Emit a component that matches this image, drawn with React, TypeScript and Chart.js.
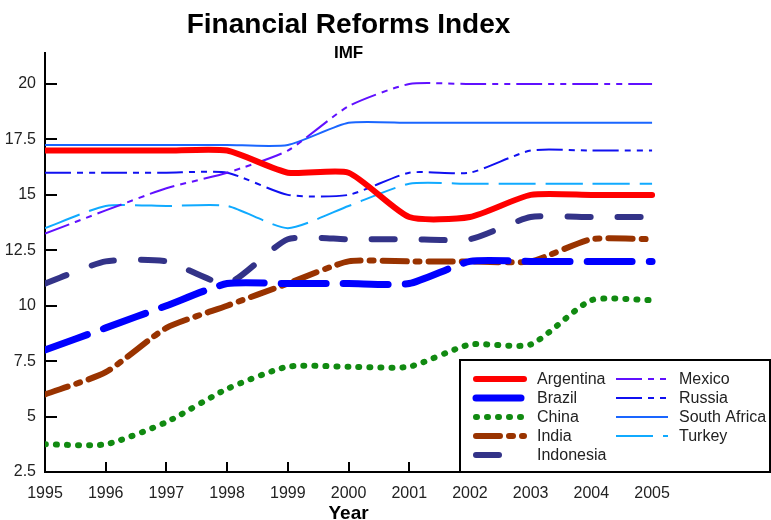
import React, { useEffect, useRef } from 'react';
import { Chart, registerables } from 'chart.js';

Chart.register(...registerables);

const FONT = '"Liberation Sans", Arial, Helvetica, sans-serif';

const years = [1995, 1996, 1997, 1998, 1999, 2000, 2001, 2002, 2003, 2004, 2005];
const yTickValues = [2.5, 5, 7.5, 10, 12.5, 15, 17.5, 20];

const argentina = [17, 17, 17, 17, 16, 16, 14, 14, 15, 15, 15];
const brazil = [8, 9, 10, 11, 11, 11, 11, 12, 12, 12, 12];
const china = [3.75, 3.75, 4.75, 6.25, 7.25, 7.25, 7.25, 8.25, 8.25, 10.25, 10.25];
const india = [6, 7, 9, 10, 11, 12, 12, 12, 12, 13, 13];
const indonesia = [11, 12, 12, 11, 13, 13, 13, 13, 14, 14, 14];
const mexico = [13.25, 14.3, 15.3, 16, 17, 19, 20, 20, 20, 20, 20];
const russia = [16, 16, 16, 16, 15, 15, 16, 16, 17, 17, 17];
const southAfrica = [17.25, 17.25, 17.25, 17.25, 17.25, 18.25, 18.25, 18.25, 18.25, 18.25, 18.25];
const turkey = [13.5, 14.5, 14.5, 14.5, 13.5, 14.5, 15.5, 15.5, 15.5, 15.5, 15.5];

const titleText = 'Financial Reforms Index';
const subtitleText = 'IMF';
const xAxisTitle = 'Year';

const toPoints = (arr: number[]) => years.map((x, i) => ({ x, y: arr[i] }));

const decorPlugin = {
  id: 'decor',
  afterDraw(chart: any) {
    const { ctx, chartArea, scales } = chart;
    const xs = scales.x;
    const ys = scales.y;
    ctx.save();
    // inward tick marks
    ctx.strokeStyle = '#000';
    ctx.lineWidth = 2;
    ctx.setLineDash([]);
    ctx.lineCap = 'butt';
    yTickValues.forEach((v) => {
      const py = Math.round(ys.getPixelForValue(v));
      ctx.beginPath();
      ctx.moveTo(chartArea.left, py);
      ctx.lineTo(chartArea.left + 12, py);
      ctx.stroke();
    });
    years.forEach((v) => {
      const px = Math.round(xs.getPixelForValue(v));
      ctx.beginPath();
      ctx.moveTo(px, chartArea.bottom);
      ctx.lineTo(px, chartArea.bottom - 10);
      ctx.stroke();
    });

    // titles
    const cx = (xs.getPixelForValue(years[0]) + xs.getPixelForValue(years[years.length - 1])) / 2;
    ctx.fillStyle = '#000';
    ctx.textAlign = 'center';
    ctx.textBaseline = 'alphabetic';
    ctx.font = `bold 28px ${FONT}`;
    ctx.fillText(titleText, cx, 33);
    ctx.font = `bold 17px ${FONT}`;
    ctx.fillText(subtitleText, cx, 58);
    ctx.font = `bold 19px ${FONT}`;
    ctx.fillText(xAxisTitle, cx, 519);

    // legend box
    const bx = 460, by = 360, bw = 310, bh = 112;
    ctx.fillStyle = '#fff';
    ctx.fillRect(bx, by, bw, bh);
    ctx.strokeStyle = '#000';
    ctx.lineWidth = 2;
    ctx.strokeRect(bx, by, bw, bh);

    const dsets = chart.data.datasets;
    dsets.forEach((ds: any, i: number) => {
      const col = i < 5 ? 0 : 1;
      const row = i < 5 ? i : i - 5;
      const y = 379 + row * 19;
      const x0 = col === 0 ? 476 : 616;
      const x1 = col === 0 ? 524 : 668;
      const tx = col === 0 ? 537 : 679;
      ctx.save();
      ctx.beginPath();
      ctx.rect(x0 - 6, y - 8, x1 - x0 + 12, 16);
      ctx.clip();
      ctx.strokeStyle = ds.borderColor;
      ctx.lineWidth = ds.borderWidth;
      ctx.lineCap = ds.borderCapStyle || 'butt';
      ctx.setLineDash(ds.borderDash || []);
      ctx.lineDashOffset = 0;
      ctx.beginPath();
      ctx.moveTo(x0, y);
      ctx.lineTo(x1, y);
      ctx.stroke();
      ctx.restore();
      ctx.fillStyle = '#222';
      ctx.font = `16px ${FONT}`;
      ctx.textAlign = 'left';
      ctx.textBaseline = 'middle';
      ctx.fillText(ds.label, tx, y + 1);
    });
    ctx.restore();
  },
};

export default function App() {
  const ref = useRef<HTMLCanvasElement>(null);

  useEffect(() => {
    if (!ref.current) return;
    const common = {
      pointRadius: 0,
      pointHoverRadius: 0,
      fill: false,
      tension: 0.2,
      borderJoinStyle: 'round' as const,
    };
    const datasets: any[] = [
      { label: 'Argentina', data: toPoints(argentina), borderColor: '#ff0000', borderWidth: 6, borderCapStyle: 'round', borderDash: [], ...common },
      { label: 'Brazil', data: toPoints(brazil), borderColor: '#0000ff', borderWidth: 7, borderCapStyle: 'round', borderDash: [45, 17], ...common },
      { label: 'China', data: toPoints(china), borderColor: '#118a11', borderWidth: 6, borderCapStyle: 'round', borderDash: [1, 10], ...common },
      { label: 'India', data: toPoints(india), borderColor: '#993300', borderWidth: 6, borderCapStyle: 'round', borderDash: [24, 9, 4, 9], ...common },
      { label: 'Indonesia', data: toPoints(indonesia), borderColor: '#333388', borderWidth: 6, borderCapStyle: 'round', borderDash: [23, 27], ...common },
      { label: 'Mexico', data: toPoints(mexico), borderColor: '#6010ff', borderWidth: 2, borderCapStyle: 'butt', borderDash: [26, 6, 6, 6, 6, 6], ...common },
      { label: 'Russia', data: toPoints(russia), borderColor: '#1010f0', borderWidth: 2, borderCapStyle: 'butt', borderDash: [26, 6, 6, 6, 6, 6], ...common },
      { label: 'South Africa', data: toPoints(southAfrica), borderColor: '#1a66ff', borderWidth: 2, borderCapStyle: 'butt', borderDash: [], ...common },
      { label: 'Turkey', data: toPoints(turkey), borderColor: '#10aaff', borderWidth: 2, borderCapStyle: 'butt', borderDash: [37, 10], ...common },
    ];

    const chart = new Chart(ref.current, {
      type: 'line',
      data: { datasets },
      plugins: [decorPlugin],
      options: {
        responsive: false,
        animation: false,
        events: [],
        layout: { padding: { top: 53, right: 91, left: 0, bottom: 0 } },
        plugins: {
          legend: { display: false },
          title: { display: false },
          tooltip: { enabled: false },
        },
        scales: {
          x: {
            type: 'linear',
            min: 1995,
            max: 2005.46,
            afterBuildTicks: (s: any) => {
              s.ticks = years.map((v) => ({ value: v }));
            },
            afterFit: (s: any) => {
              s.height = 48;
            },
            grid: { display: false, drawTicks: false },
            border: { display: true, color: '#000', width: 2 },
            ticks: {
              color: '#222',
              font: { family: FONT, size: 16 },
              padding: 12,
              autoSkip: false,
              maxRotation: 0,
              callback: (v: any) => String(v),
            },
          },
          y: {
            type: 'linear',
            min: 2.5,
            max: 21.4,
            afterBuildTicks: (s: any) => {
              s.ticks = yTickValues.map((v) => ({ value: v }));
            },
            afterFit: (s: any) => {
              s.width = 45;
            },
            grid: { display: false, drawTicks: false },
            border: { display: true, color: '#000', width: 2 },
            ticks: {
              color: '#222',
              font: { family: FONT, size: 16 },
              padding: 9,
              autoSkip: false,
              callback: (v: any) => String(v),
            },
          },
        },
      },
    } as any);
    return () => chart.destroy();
  }, []);

  return (
    <div style={{ position: 'absolute', left: 0, top: 0, width: 771, height: 520, background: '#fff' }}>
      <canvas ref={ref} width={771} height={520} style={{ display: 'block' }} />
    </div>
  );
}
